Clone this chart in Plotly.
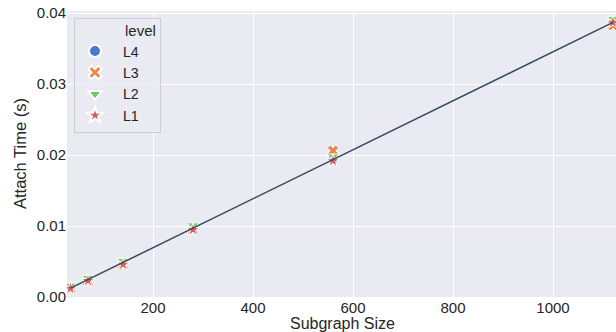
import plotly.graph_objects as go

sizes = [35, 70, 140, 280, 560, 1120]
levels = ["L4", "L3", "L2", "L1"]
l4_time = [0.0013, 0.0025, 0.0048, 0.0097, 0.0194, 0.0386]
l3_time = [0.0011, 0.0022, 0.0045, 0.0094, 0.0206, 0.0383]
l2_time = [0.0016, 0.0027, 0.0051, 0.0101, 0.0198, 0.0392]
l1_time = [0.0012, 0.0023, 0.0046, 0.0095, 0.0192, 0.0387]
fit_x = [35, 1120]
fit_y = [0.00125, 0.0387]

series = {"L4": l4_time, "L3": l3_time, "L2": l2_time, "L1": l1_time}
colors = {"L4": "#4878D0", "L3": "#EE854A", "L2": "#6ACC64", "L1": "#D65F5F"}
symbols = {"L4": "circle", "L3": "x", "L2": "triangle-down", "L1": "star"}

NB = "\u00a0"
fig = go.Figure()
for lv in levels:
    fig.add_trace(go.Scatter(
        x=sizes, y=series[lv], mode="markers", name=NB * 2 + lv + NB * 4,
        marker=dict(color=colors[lv], symbol=symbols[lv], size=10,
                    line=dict(color="white", width=1)),
    ))
fig.add_trace(go.Scatter(x=fit_x, y=fit_y, mode="lines", showlegend=False,
                         line=dict(color="#34495e", width=1.5)))

W, H = 616, 332
L, R, T, B = 67, 0, 11, 35
pw, ph = W - L - R, H - T - B

font = "Liberation Sans, Arial, sans-serif"
fig.update_layout(
    width=W, height=H,
    margin=dict(l=L, r=R, t=T, b=B),
    paper_bgcolor="white", plot_bgcolor="#EAEAF2",
    font=dict(family=font, size=15, color="#262626"),
    showlegend=True,
    legend=dict(x=(74 - L) / pw, y=(H - B - 18) / ph, xanchor="left", yanchor="top",
                bgcolor="rgba(234,234,242,0.8)", bordercolor="#CCCCD4", borderwidth=1,
                font=dict(size=14.2, color="#262626"),
                title=dict(text=NB, font=dict(size=12.5)),
                itemsizing="constant", tracegroupgap=0),
)
fig.add_annotation(text="level", xref="paper", yref="paper",
                   x=(123 - L) / pw, y=(H - B - 30) / ph,
                   xanchor="left", yanchor="middle", showarrow=False,
                   font=dict(size=15, color="#262626"))
fig.add_annotation(text="Attach Time (s)", xref="paper", yref="paper",
                   x=(20 - L) / pw, y=0.5, textangle=-90,
                   xanchor="center", yanchor="middle", showarrow=False,
                   font=dict(size=16.5, color="#262626"))
fig.add_annotation(text="Subgraph Size", xref="paper", yref="paper",
                   x=(342 - L) / pw, y=-(323.8 - (H - B)) / ph,
                   xanchor="center", yanchor="middle", showarrow=False,
                   font=dict(size=16, color="#262626"))
fig.update_xaxes(range=[28, 1126], tickvals=[200, 400, 600, 800, 1000],
                 gridcolor="white", gridwidth=1, zeroline=False, showline=False,
                 ticks="", automargin=False)
fig.update_yaxes(range=[0, 0.0403], tickvals=[0, 0.01, 0.02, 0.03, 0.04],
                 tickformat=".2f", gridcolor="white", gridwidth=1, zeroline=False,
                 showline=False, ticks="", automargin=False)
fig.write_html("out.html", config={"displayModeBar": False},
               post_script="document.body.style.margin='0';document.body.style.padding='0';document.body.style.overflow='hidden';")
